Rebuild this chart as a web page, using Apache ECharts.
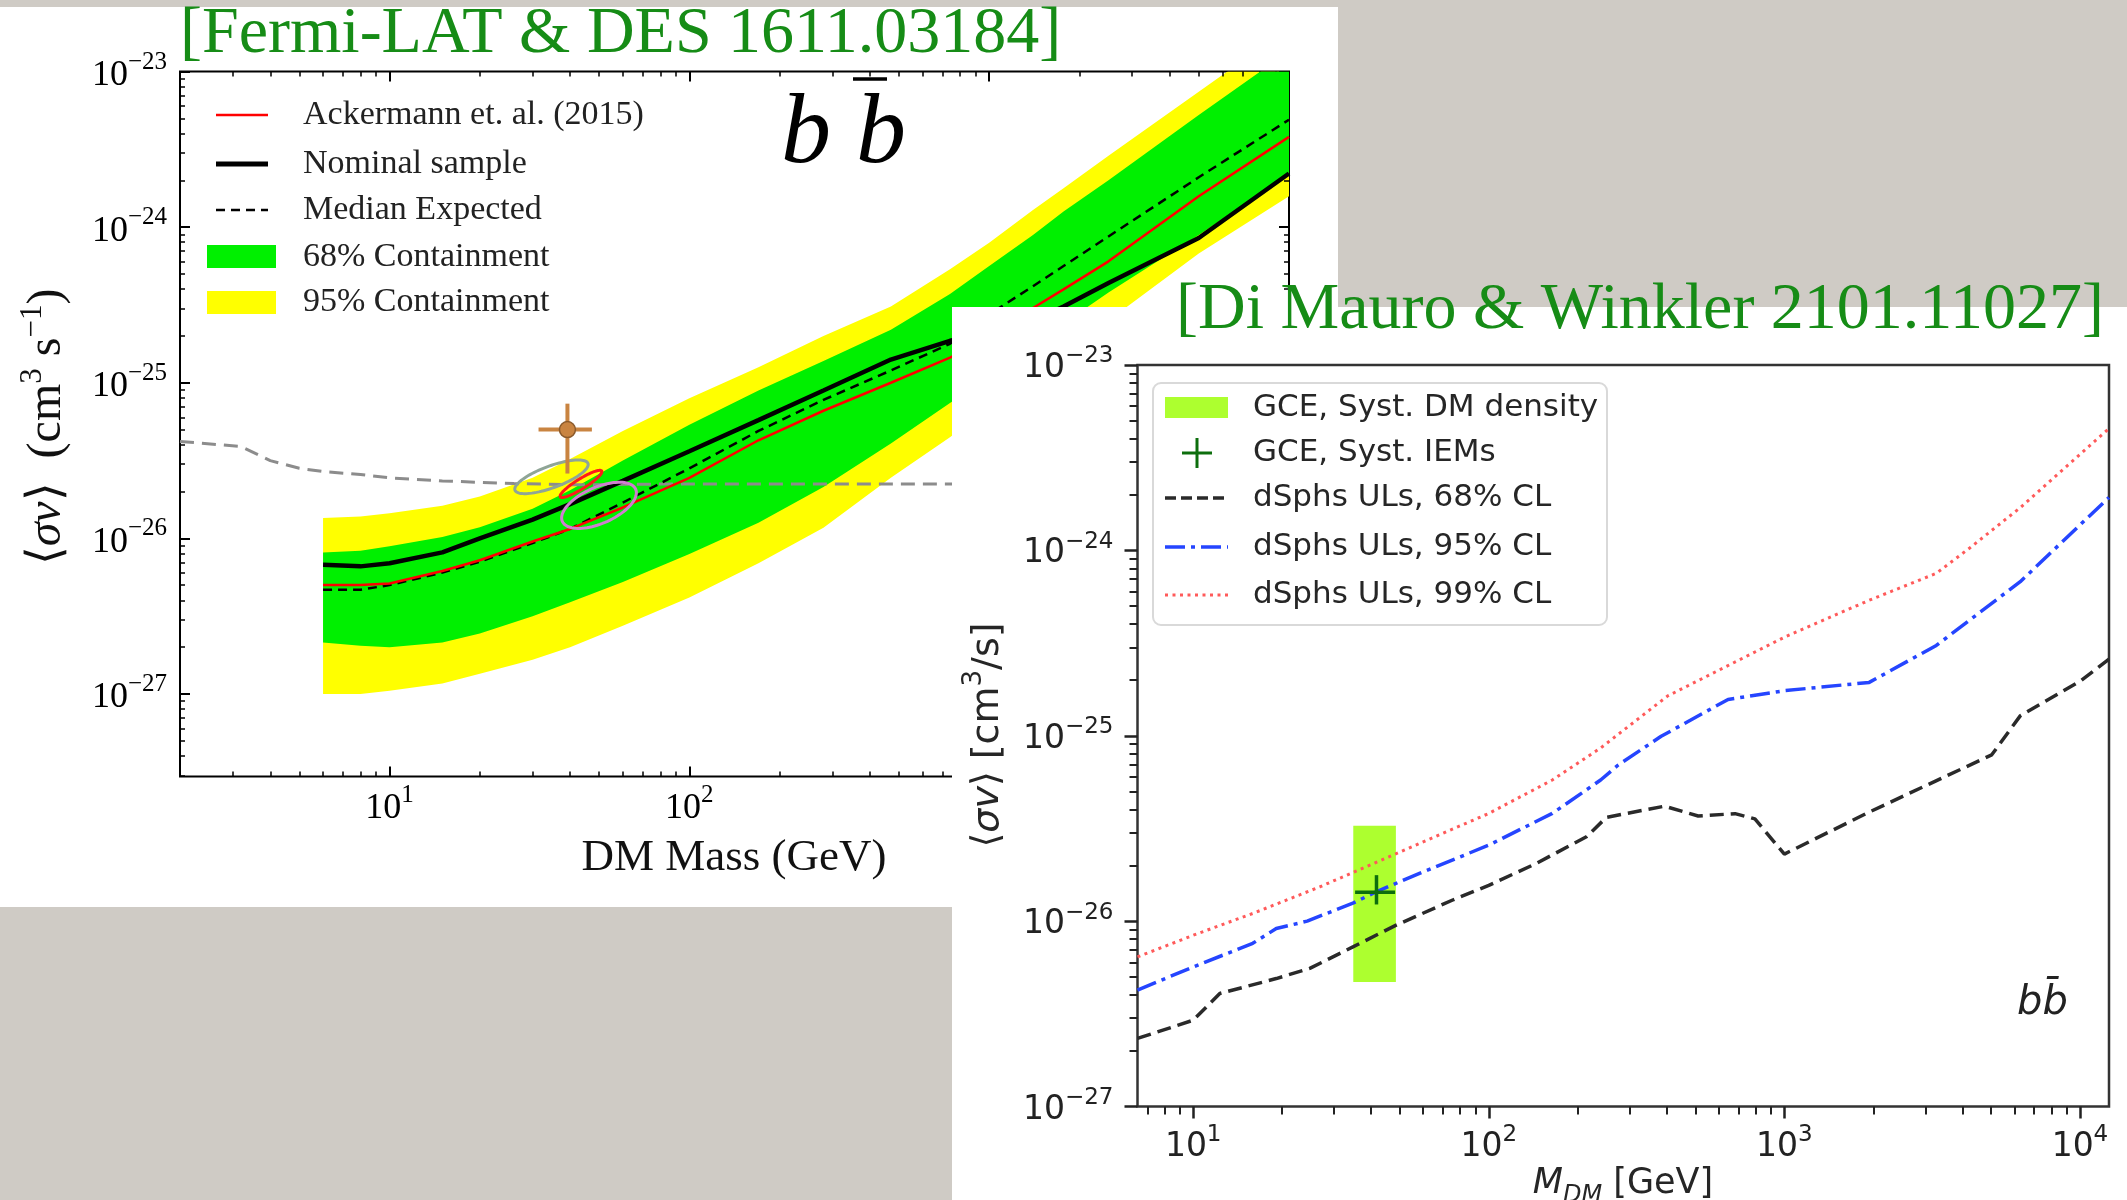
<!DOCTYPE html>
<html>
<head>
<meta charset="utf-8">
<title>Dark matter annihilation limits, b b̄ channel</title>
<script src="https://cdn.jsdelivr.net/npm/echarts@6.0.0/dist/echarts.min.js"></script>
<style>
  html, body { margin: 0; padding: 0; background: #cfcbc5; }
  #chart { width: 2127px; height: 1200px; }
</style>
</head>
<body>
<div id="chart"></div>
<script>
// ---------- Fermi-LAT & DES (1611.03184): limits on <sigma v> for b b-bar ----------
const fermiMass = [6, 8, 10, 15, 20, 30, 40, 60, 100, 170, 280, 470, 740, 1000, 1400, 1770, 2500, 5000, 10000];
const fermiBand95Low  = [1.00e-27, 1.00e-27, 1.05e-27, 1.17e-27, 1.35e-27, 1.66e-27, 2.00e-27, 2.75e-27, 4.17e-27, 6.92e-27, 1.17e-26, 2.45e-26, 4.47e-26, 6.92e-26, 1.12e-25, 1.55e-25, 2.51e-25, 6.76e-25, 1.58e-24];
const fermiBand95High = [1.35e-26, 1.38e-26, 1.45e-26, 1.62e-26, 1.86e-26, 2.45e-26, 3.24e-26, 4.90e-26, 7.94e-26, 1.26e-25, 2.00e-25, 3.09e-25, 5.37e-25, 7.94e-25, 1.29e-24, 1.78e-24, 2.88e-24, 7.41e-24, 1.91e-23];
const fermiBand68Low  = [2.14e-27, 2.04e-27, 2.00e-27, 2.14e-27, 2.45e-27, 3.16e-27, 3.89e-27, 5.25e-27, 7.94e-27, 1.26e-26, 2.14e-26, 4.07e-26, 7.41e-26, 1.10e-25, 1.78e-25, 2.40e-25, 3.80e-25, 8.91e-25, 2.19e-24];
const fermiBand68High = [8.13e-27, 8.32e-27, 8.91e-27, 1.02e-26, 1.18e-26, 1.55e-26, 2.04e-26, 3.16e-26, 5.37e-26, 8.91e-26, 1.38e-25, 2.19e-25, 3.72e-25, 5.62e-25, 8.91e-25, 1.26e-24, 2.00e-24, 5.25e-24, 1.35e-23];
const fermiNominal    = [6.76e-27, 6.61e-27, 6.92e-27, 8.13e-27, 1.00e-26, 1.32e-26, 1.66e-26, 2.34e-26, 3.63e-26, 5.75e-26, 8.91e-26, 1.41e-25, 1.86e-25, 2.09e-25, 2.51e-25, 3.09e-25, 4.37e-25, 8.51e-25, 2.21e-24];
const fermiAckermann  = [5.01e-27, 5.01e-27, 5.13e-27, 6.17e-27, 7.24e-27, 9.55e-27, 1.15e-26, 1.58e-26, 2.45e-26, 4.27e-26, 6.61e-26, 1.00e-25, 1.45e-25, 1.95e-25, 3.02e-25, 3.98e-25, 6.03e-25, 1.58e-24, 3.80e-24];
const fermiMedianExp  = [4.68e-27, 4.68e-27, 5.01e-27, 6.03e-27, 7.08e-27, 9.33e-27, 1.15e-26, 1.70e-26, 2.82e-26, 4.90e-26, 7.76e-26, 1.20e-25, 1.78e-25, 2.75e-25, 4.17e-25, 5.62e-25, 8.71e-25, 2.09e-24, 4.90e-24];

// thin grey dashed reference curve
const greyCurveMass   = [2, 3.2, 4, 5, 6, 8, 10, 15, 26, 42, 100, 1000, 10000];
const greyCurveSigmaV = [4.20e-26, 3.89e-26, 3.16e-26, 2.82e-26, 2.69e-26, 2.57e-26, 2.45e-26, 2.34e-26, 2.25e-26, 2.21e-26, 2.24e-26, 2.24e-26, 2.24e-26];

// GCE best fit with error bars: [mass, sigmaV], [massLow, massHigh], [svLow, svHigh]
const gceFermiPoint   = [39.2, 5.0e-26];
const gceFermiMassErr = [31.4, 47.3];
const gceFermiSvErr   = [2.61e-26, 7.34e-26];

// GCE contours: end points of the long axis [mass, sigmaV] and half width (decades)
const contourGreyAxis   = [[26.2, 2.04e-26], [45.9, 3.03e-26]];
const contourGreyWidth  = 0.07;
const contourRedAxis    = [[37.1, 1.85e-26], [51.0, 2.71e-26]];
const contourRedWidth   = 0.032;
const contourVioletAxis = [[37.7, 1.285e-26], [66.2, 2.07e-26]];
const contourVioletWidth = 0.116;

// ---------- Di Mauro & Winkler (2101.11027): dSphs upper limits ----------
const ul68Mass   = [6.48, 10, 12.3, 19.1, 24.8, 34.7, 48.6, 75.5, 100, 145, 214, 250, 393, 511, 681, 795, 1000, 1940, 5030, 6280, 10060, 12540];
const ul68SigmaV = [2.33e-27, 2.92e-27, 4.07e-27, 4.90e-27, 5.56e-27, 7.26e-27, 9.51e-27, 1.30e-26, 1.56e-26, 2.05e-26, 2.85e-26, 3.63e-26, 4.17e-26, 3.69e-26, 3.80e-26, 3.56e-26, 2.30e-26, 3.88e-26, 7.89e-26, 1.28e-25, 1.98e-25, 2.59e-25];
const ul95Mass   = [6.48, 10, 15.9, 19.1, 24.3, 34.7, 41.6, 58.3, 100, 164, 239, 274, 383, 645, 1000, 1936, 3266, 6282, 12540];
const ul95SigmaV = [4.25e-27, 5.66e-27, 7.59e-27, 9.12e-27, 1.00e-26, 1.25e-26, 1.44e-26, 1.81e-26, 2.57e-26, 3.81e-26, 5.77e-26, 6.95e-26, 9.93e-26, 1.57e-25, 1.75e-25, 1.94e-25, 3.07e-25, 6.78e-25, 1.93e-24];
const ul99Mass   = [6.48, 10, 15.9, 26.8, 47.3, 100, 164, 239, 403, 1000, 1936, 3266, 4237, 6282, 12540];
const ul99SigmaV = [6.41e-27, 8.39e-27, 1.10e-26, 1.53e-26, 2.27e-26, 3.81e-26, 5.77e-26, 8.59e-26, 1.64e-25, 3.40e-25, 5.38e-25, 7.52e-25, 1.03e-24, 1.70e-24, 4.54e-24];

// GCE with DM-density systematics (box) and IEM systematics (cross)
const gceDensityMass   = [34.8, 48.5];
const gceDensitySigmaV = [4.70e-27, 3.27e-26];
const gceIemPoint      = [41.7, 1.43e-26];
const gceIemMassErr    = [35.3, 48.2];
const gceIemSvErr      = [1.23e-26, 1.77e-26];

// ---------- helpers ----------
const L = Math.log10;
const pairs = (xs, ys) => xs.map((x, i) => [L(x), L(ys[i])]);
const majorTicks = (lo, hi) => { const o = []; for (let n = Math.ceil(lo - 1e-9); n <= Math.floor(hi + 1e-9); n++) o.push(n); return o; };
const minorTicks = (lo, hi) => {
  const o = [];
  for (let n = Math.floor(lo); n < Math.ceil(hi); n++)
    for (let k = 2; k <= 9; k++) { const v = n + L(k); if (v > lo + 1e-6 && v < hi - 1e-6) o.push(v); }
  return o;
};
const supText = v => { const n = Math.round(v); return n < 0 ? '\u2212' + (-n) : String(n); };
const decade = v => '{b|10}{s|' + supText(v) + '}';

const SERIF = 'Liberation Serif';
const SANS = 'DejaVu Sans';

const X1 = [L(2), 4], Y1 = [-27.53, -23];
const X2 = [L(6.48), L(12540)], Y2 = [-27, -23];

const serifRich = {
  b: { fontFamily: SERIF, fontSize: 36, lineHeight: 44, verticalAlign: 'bottom', color: '#000' },
  s: { fontFamily: SERIF, fontSize: 25, lineHeight: 22, verticalAlign: 'top', color: '#000' }
};
const sansRich = {
  b: { fontFamily: SANS, fontSize: 33, lineHeight: 40, verticalAlign: 'bottom', color: '#222' },
  s: { fontFamily: SANS, fontSize: 23, lineHeight: 20, verticalAlign: 'top', color: '#222' }
};

function tickAxis(o) {
  return {
    type: 'value', gridIndex: o.grid, min: o.range[0], max: o.range[1], position: o.pos,
    zlevel: o.zlevel, z: 3, silent: true,
    axisLine: { show: false },
    splitLine: { show: false },
    axisPointer: { show: false },
    axisTick: {
      show: true, inside: o.inside, length: o.len, customValues: o.ticks,
      lineStyle: { color: o.color, width: o.width }
    },
    axisLabel: o.labels ? {
      show: true, customValues: o.labels, interval: 0, margin: o.margin,
      showMinLabel: true, showMaxLabel: true, hideOverlap: false,
      formatter: decade, rich: o.rich
    } : { show: false }
  };
}

// left panel axes (ticks on all four sides, pointing in)
const xAxes = [
  tickAxis({ grid: 0, range: X1, pos: 'bottom', inside: true, len: 10, width: 2, color: '#000', zlevel: 0, ticks: majorTicks(X1[0], X1[1]), labels: [1, 2], margin: 6, rich: serifRich }),
  tickAxis({ grid: 0, range: X1, pos: 'bottom', inside: true, len: 5, width: 1.5, color: '#000', zlevel: 0, ticks: minorTicks(X1[0], X1[1]) }),
  tickAxis({ grid: 0, range: X1, pos: 'top', inside: true, len: 10, width: 2, color: '#000', zlevel: 0, ticks: majorTicks(X1[0], X1[1]) }),
  tickAxis({ grid: 0, range: X1, pos: 'top', inside: true, len: 5, width: 1.5, color: '#000', zlevel: 0, ticks: minorTicks(X1[0], X1[1]) }),
  // right panel axes (ticks pointing out)
  tickAxis({ grid: 1, range: X2, pos: 'bottom', inside: false, len: 12, width: 2.5, color: '#222', zlevel: 1, ticks: majorTicks(X2[0], X2[1]), labels: majorTicks(X2[0], X2[1]), margin: 17, rich: sansRich }),
  tickAxis({ grid: 1, range: X2, pos: 'bottom', inside: false, len: 8, width: 2, color: '#222', zlevel: 1, ticks: minorTicks(X2[0], X2[1]) })
];
const yAxes = [
  tickAxis({ grid: 0, range: Y1, pos: 'left', inside: true, len: 10, width: 2, color: '#000', zlevel: 0, ticks: majorTicks(Y1[0], Y1[1]), labels: majorTicks(Y1[0], Y1[1]), margin: 13, rich: serifRich }),
  tickAxis({ grid: 0, range: Y1, pos: 'left', inside: true, len: 5, width: 1.5, color: '#000', zlevel: 0, ticks: minorTicks(Y1[0], Y1[1]) }),
  tickAxis({ grid: 0, range: Y1, pos: 'right', inside: true, len: 10, width: 2, color: '#000', zlevel: 0, ticks: majorTicks(Y1[0], Y1[1]) }),
  tickAxis({ grid: 0, range: Y1, pos: 'right', inside: true, len: 5, width: 1.5, color: '#000', zlevel: 0, ticks: minorTicks(Y1[0], Y1[1]) }),
  tickAxis({ grid: 1, range: Y2, pos: 'left', inside: false, len: 13, width: 2.5, color: '#222', zlevel: 1, ticks: majorTicks(Y2[0], Y2[1]), labels: majorTicks(Y2[0], Y2[1]), margin: 24, rich: sansRich }),
  tickAxis({ grid: 1, range: Y2, pos: 'left', inside: false, len: 8, width: 2, color: '#222', zlevel: 1, ticks: minorTicks(Y2[0], Y2[1]) })
];

// filled band between two curves, clipped to the plot area
function bandSeries(name, xs, lo, hi, color, z) {
  const data = xs.map((m, i) => [L(m), L(lo[i]), L(hi[i])]);
  return {
    type: 'custom', name, xAxisIndex: 0, yAxisIndex: 0, zlevel: 0, z, silent: true, clip: true,
    encode: { x: 0, y: [1, 2] }, data,
    renderItem(params, api) {
      if (params.dataIndex !== 0) return null;
      const up = data.map(d => api.coord([d[0], d[2]]));
      const dn = data.map(d => api.coord([d[0], d[1]])).reverse();
      const cs = params.coordSys;
      return {
        type: 'group',
        clipPath: { type: 'rect', shape: { x: cs.x, y: cs.y, width: cs.width, height: cs.height } },
        children: [{ type: 'polygon', shape: { points: up.concat(dn) }, style: { fill: color } }]
      };
    }
  };
}

function lineSeries(name, data, axis, zlevel, z, style) {
  return {
    type: 'line', name, data, xAxisIndex: axis, yAxisIndex: axis, zlevel, z,
    showSymbol: false, symbol: 'none', silent: true, clip: true, animation: false,
    emphasis: { disabled: true }, lineStyle: style
  };
}

// closed contour from the long axis end points and a half width in decades
function contourSeries(name, axisPts, halfWidth, color, width) {
  return {
    type: 'custom', name, xAxisIndex: 0, yAxisIndex: 0, zlevel: 0, z: 8, silent: true,
    encode: { x: 0, y: 1 },
    data: [[L(axisPts[0][0]), L(axisPts[0][1]), L(axisPts[1][0]), L(axisPts[1][1]), halfWidth]],
    renderItem(params, api) {
      const p1 = api.coord([api.value(0), api.value(1)]);
      const p2 = api.coord([api.value(2), api.value(3)]);
      const cx = (p1[0] + p2[0]) / 2, cy = (p1[1] + p2[1]) / 2;
      const dx = p2[0] - p1[0], dy = p2[1] - p1[1];
      const a = Math.hypot(dx, dy) / 2, ux = dx / (2 * a), uy = dy / (2 * a);
      const mx = (api.value(0) + api.value(2)) / 2, my = (api.value(1) + api.value(3)) / 2;
      const b = Math.abs(api.coord([mx, my])[1] - api.coord([mx, my + api.value(4)])[1]);
      const pts = [];
      for (let k = 0; k < 90; k++) {
        const t = k / 90 * 2 * Math.PI, c = Math.cos(t), s = Math.sin(t);
        pts.push([cx + a * c * ux - b * s * uy, cy + a * c * uy + b * s * ux]);
      }
      return { type: 'polygon', shape: { points: pts }, style: { fill: 'none', stroke: color, lineWidth: width } };
    }
  };
}

// point with horizontal and vertical error bars
function crossSeries(name, pt, xErr, yErr, axis, zlevel, z, color, width, dotRadius, dotStroke) {
  return {
    type: 'custom', name, xAxisIndex: axis, yAxisIndex: axis, zlevel, z, silent: true,
    encode: { x: 0, y: 1 },
    data: [[L(pt[0]), L(pt[1]), L(xErr[0]), L(xErr[1]), L(yErr[0]), L(yErr[1])]],
    renderItem(params, api) {
      const c = api.coord([api.value(0), api.value(1)]);
      const xl = api.coord([api.value(2), api.value(1)]), xr = api.coord([api.value(3), api.value(1)]);
      const yb = api.coord([api.value(0), api.value(4)]), yt = api.coord([api.value(0), api.value(5)]);
      const st = { stroke: color, lineWidth: width };
      const kids = [
        { type: 'line', shape: { x1: xl[0], y1: c[1], x2: xr[0], y2: c[1] }, style: st },
        { type: 'line', shape: { x1: c[0], y1: yb[1], x2: c[0], y2: yt[1] }, style: st }
      ];
      if (dotRadius) kids.push({ type: 'circle', shape: { cx: c[0], cy: c[1], r: dotRadius }, style: { fill: color, stroke: dotStroke, lineWidth: 1.5 } });
      return { type: 'group', children: kids };
    }
  };
}

const series = [
  // ----- left panel -----
  bandSeries('95% Containment', fermiMass, fermiBand95Low, fermiBand95High, '#ffff00', 3),
  bandSeries('68% Containment', fermiMass, fermiBand68Low, fermiBand68High, '#00f000', 4),
  lineSeries('grey reference', pairs(greyCurveMass, greyCurveSigmaV), 0, 0, 5, { color: '#8c8c8c', width: 3, type: [14, 8] }),
  lineSeries('Median Expected', pairs(fermiMass, fermiMedianExp), 0, 0, 6, { color: '#000', width: 2.5, type: [9, 6] }),
  lineSeries('Ackermann et. al. (2015)', pairs(fermiMass, fermiAckermann), 0, 0, 6, { color: '#ff0000', width: 2.5 }),
  lineSeries('Nominal sample', pairs(fermiMass, fermiNominal), 0, 0, 7, { color: '#000', width: 4.5 }),
  contourSeries('GCE contour (grey)', contourGreyAxis, contourGreyWidth, '#8fa596', 3),
  contourSeries('GCE contour (red)', contourRedAxis, contourRedWidth, '#ff1a1a', 3),
  contourSeries('GCE contour (violet)', contourVioletAxis, contourVioletWidth, '#cf7fcf', 3),
  crossSeries('GCE fit', gceFermiPoint, gceFermiMassErr, gceFermiSvErr, 0, 0, 9, '#c98441', 4, 8, '#8a5a2c'),

  // ----- right panel -----
  {
    type: 'line', name: 'grid', data: [], xAxisIndex: 4, yAxisIndex: 4, zlevel: 1, z: 2, silent: true,
    markLine: {
      silent: true, symbol: ['none', 'none'], animation: false, label: { show: false },
      lineStyle: { color: '#d6d6d6', width: 2.5, type: 'solid' },
      emphasis: { disabled: true },
      data: majorTicks(X2[0], X2[1]).map(v => ({ xAxis: v })).concat([-26, -25, -24].map(v => ({ yAxis: v })))
    }
  },
  {
    type: 'custom', name: 'GCE, Syst. DM density', xAxisIndex: 4, yAxisIndex: 4, zlevel: 1, z: 4, silent: true,
    encode: { x: [0, 1], y: [2, 3] },
    data: [[L(gceDensityMass[0]), L(gceDensityMass[1]), L(gceDensitySigmaV[0]), L(gceDensitySigmaV[1])]],
    renderItem(params, api) {
      const a = api.coord([api.value(0), api.value(3)]);
      const b = api.coord([api.value(1), api.value(2)]);
      return { type: 'rect', shape: { x: a[0], y: a[1], width: b[0] - a[0], height: b[1] - a[1] }, style: { fill: '#adff2f' } };
    }
  },
  lineSeries('dSphs ULs, 68% CL', pairs(ul68Mass, ul68SigmaV), 4, 1, 5, { color: '#2a2a2a', width: 3.5, type: [14, 7] }),
  lineSeries('dSphs ULs, 95% CL', pairs(ul95Mass, ul95SigmaV), 4, 1, 5, { color: '#2545ff', width: 3.5, type: [20, 6, 4, 6] }),
  lineSeries('dSphs ULs, 99% CL', pairs(ul99Mass, ul99SigmaV), 4, 1, 5, { color: '#ff5a5a', width: 3, type: [3, 4.5] }),
  crossSeries('GCE, Syst. IEMs', gceIemPoint, gceIemMassErr, gceIemSvErr, 4, 1, 6, '#0d6e0d', 3.5, 0)
];

// ----- text, legends and panel backgrounds -----
function txt(x, y, text, opt) {
  return Object.assign({ type: 'text', x, y, silent: true, zlevel: 0, z: 20,
    style: Object.assign({ text, fill: '#111', align: 'left', verticalAlign: 'middle' }, opt.style) }, opt.el || {});
}
const gOpt = (zlevel, z) => ({ zlevel, z, silent: true });

const graphics = [
  // panels
  Object.assign({ type: 'rect', shape: { x: 0, y: 7, width: 1338, height: 900 }, style: { fill: '#ffffff' } }, gOpt(0, 0)),
  Object.assign({ type: 'rect', shape: { x: 952, y: 307, width: 1175, height: 893 }, style: { fill: '#ffffff' } }, gOpt(1, 0)),

  // left panel titles / labels
  txt(180, 35, '[Fermi-LAT & DES 1611.03184]', { style: { fontFamily: SERIF, fontSize: 66, fill: '#168c16' } }),
  txt(734, 858, 'DM Mass (GeV)', { style: { fontFamily: SERIF, fontSize: 45, align: 'center' } }),
  txt(44, 427, '{n|\u27e8}{i|\u03c3v}{n|\u27e9  (cm}{p|3}{n| s}{p|\u22121}{n|)}', {
    el: { rotation: Math.PI / 2 },
    style: { align: 'center', rich: {
      n: { fontFamily: SERIF, fontSize: 48, lineHeight: 54, verticalAlign: 'bottom', fill: '#111' },
      i: { fontFamily: SERIF, fontStyle: 'italic', fontSize: 48, lineHeight: 54, verticalAlign: 'bottom', fill: '#111' },
      p: { fontFamily: SERIF, fontSize: 31, lineHeight: 27, verticalAlign: 'top', fill: '#111' }
    } }
  }),
  txt(781, 136, 'b b', { style: { fontFamily: SERIF, fontStyle: 'italic', fontSize: 100, fill: '#000' } }),
  Object.assign({ type: 'line', shape: { x1: 853, y1: 79, x2: 887, y2: 79 }, style: { stroke: '#000', lineWidth: 3.5 } }, gOpt(0, 20)),

  // left legend
  Object.assign({ type: 'line', shape: { x1: 216, y1: 115, x2: 268, y2: 115 }, style: { stroke: '#ff0000', lineWidth: 2.5 } }, gOpt(0, 20)),
  Object.assign({ type: 'line', shape: { x1: 216, y1: 164, x2: 268, y2: 164 }, style: { stroke: '#000', lineWidth: 5 } }, gOpt(0, 20)),
  Object.assign({ type: 'line', shape: { x1: 216, y1: 210, x2: 268, y2: 210 }, style: { stroke: '#000', lineWidth: 2.5, lineDash: [9, 6] } }, gOpt(0, 20)),
  Object.assign({ type: 'rect', shape: { x: 207, y: 245, width: 69, height: 23 }, style: { fill: '#00f000' } }, gOpt(0, 20)),
  Object.assign({ type: 'rect', shape: { x: 207, y: 291, width: 69, height: 23 }, style: { fill: '#ffff00' } }, gOpt(0, 20)),
  txt(303, 115, 'Ackermann et. al. (2015)', { style: { fontFamily: SERIF, fontSize: 34, fill: '#222' } }),
  txt(303, 164, 'Nominal sample', { style: { fontFamily: SERIF, fontSize: 34, fill: '#222' } }),
  txt(303, 210, 'Median Expected', { style: { fontFamily: SERIF, fontSize: 34, fill: '#222' } }),
  txt(303, 257, '68% Containment', { style: { fontFamily: SERIF, fontSize: 34, fill: '#222' } }),
  txt(303, 302, '95% Containment', { style: { fontFamily: SERIF, fontSize: 34, fill: '#222' } }),

  // right panel labels
  txt(1176, 311, '[Di Mauro & Winkler 2101.11027]', { el: { zlevel: 1, z: 30 }, style: { fontFamily: SERIF, fontSize: 66, fill: '#168c16' } }),
  txt(984, 735, '{n|\u27e8}{i|\u03c3v}{n|\u27e9 [cm}{p|3}{n|/s]}', {
    el: { rotation: Math.PI / 2, zlevel: 1 },
    style: { align: 'center', rich: {
      n: { fontFamily: SANS, fontSize: 38, lineHeight: 46, verticalAlign: 'bottom', fill: '#262626' },
      i: { fontFamily: SANS, fontStyle: 'italic', fontSize: 38, lineHeight: 46, verticalAlign: 'bottom', fill: '#262626' },
      p: { fontFamily: SANS, fontSize: 26, lineHeight: 22, verticalAlign: 'top', fill: '#262626' }
    } }
  }),
  txt(1623, 1187, '{i|M}{d|DM}{n| [GeV]}', {
    el: { zlevel: 1 },
    style: { align: 'center', rich: {
      i: { fontFamily: SANS, fontStyle: 'italic', fontSize: 35, lineHeight: 42, verticalAlign: 'top', fill: '#262626' },
      d: { fontFamily: SANS, fontStyle: 'italic', fontSize: 24, lineHeight: 30, verticalAlign: 'bottom', fill: '#262626' },
      n: { fontFamily: SANS, fontSize: 35, lineHeight: 42, verticalAlign: 'top', fill: '#262626' }
    } }
  }),
  txt(2017, 1004, 'bb\u0304', { el: { zlevel: 1 }, style: { fontFamily: SANS, fontStyle: 'italic', fontSize: 40, fill: '#222' } }),

  // right legend
  Object.assign({ type: 'rect', shape: { x: 1153, y: 383, width: 454, height: 242, r: 8 }, style: { fill: 'rgba(255,255,255,0.8)', stroke: '#d9d9d9', lineWidth: 2 } }, gOpt(1, 20)),
  Object.assign({ type: 'rect', shape: { x: 1165, y: 397, width: 63, height: 21 }, style: { fill: '#adff2f' } }, gOpt(1, 21)),
  Object.assign({ type: 'line', shape: { x1: 1182, y1: 453, x2: 1212, y2: 453 }, style: { stroke: '#0d6e0d', lineWidth: 3 } }, gOpt(1, 21)),
  Object.assign({ type: 'line', shape: { x1: 1197, y1: 438, x2: 1197, y2: 468 }, style: { stroke: '#0d6e0d', lineWidth: 3 } }, gOpt(1, 21)),
  Object.assign({ type: 'line', shape: { x1: 1165, y1: 498, x2: 1228, y2: 498 }, style: { stroke: '#2a2a2a', lineWidth: 3.5, lineDash: [11, 5] } }, gOpt(1, 21)),
  Object.assign({ type: 'line', shape: { x1: 1165, y1: 547, x2: 1228, y2: 547 }, style: { stroke: '#2545ff', lineWidth: 3.5, lineDash: [20, 6, 4, 6] } }, gOpt(1, 21)),
  Object.assign({ type: 'line', shape: { x1: 1165, y1: 595, x2: 1228, y2: 595 }, style: { stroke: '#ff5a5a', lineWidth: 3, lineDash: [3, 4.5] } }, gOpt(1, 21)),
  txt(1253, 408, 'GCE, Syst. DM density', { el: { zlevel: 1, z: 22 }, style: { fontFamily: SANS, fontSize: 31, fill: '#262626' } }),
  txt(1253, 453, 'GCE, Syst. IEMs', { el: { zlevel: 1, z: 22 }, style: { fontFamily: SANS, fontSize: 31, fill: '#262626' } }),
  txt(1253, 498, 'dSphs ULs, 68% CL', { el: { zlevel: 1, z: 22 }, style: { fontFamily: SANS, fontSize: 31, fill: '#262626' } }),
  txt(1253, 547, 'dSphs ULs, 95% CL', { el: { zlevel: 1, z: 22 }, style: { fontFamily: SANS, fontSize: 31, fill: '#262626' } }),
  txt(1253, 595, 'dSphs ULs, 99% CL', { el: { zlevel: 1, z: 22 }, style: { fontFamily: SANS, fontSize: 31, fill: '#262626' } })
];

const chart = echarts.init(document.getElementById('chart'), null, { renderer: 'canvas', width: 2127, height: 1200 });
chart.setOption({
  animation: false,
  backgroundColor: '#cfcbc5',
  grid: [
    { left: 180, top: 71.5, width: 1109, height: 705, show: true, borderColor: '#000', borderWidth: 2,
      backgroundColor: 'transparent', containLabel: false, outerBoundsMode: 'none', zlevel: 0, z: 2 },
    { left: 1137.5, top: 365, width: 971.5, height: 741.5, show: true, borderColor: '#333', borderWidth: 2.5,
      backgroundColor: 'transparent', containLabel: false, outerBoundsMode: 'none', zlevel: 1, z: 2 }
  ],
  xAxis: xAxes,
  yAxis: yAxes,
  series,
  graphic: { elements: graphics }
});
</script>
</body>
</html>
